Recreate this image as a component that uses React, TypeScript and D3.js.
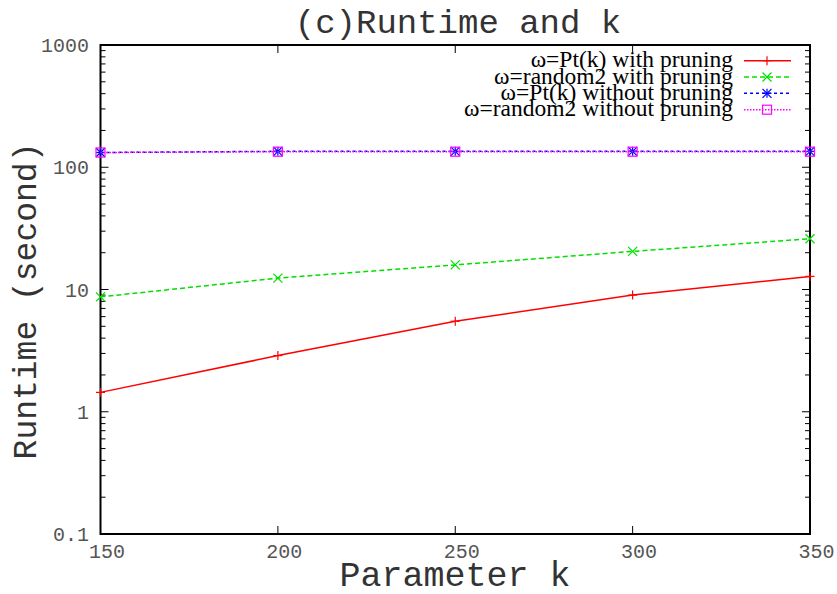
import * as React from 'react';
import { useRef, useEffect } from 'react';
import * as d3 from 'd3';

const kValues = [150, 200, 250, 300, 350];
const ptWithPruning = [1.44, 2.88, 5.5, 9.0, 12.8];
const randomWithPruning = [8.7, 12.4, 15.9, 20.5, 26.0];
const ptWithoutPruning = [132, 135, 135, 135, 135];
const randomWithoutPruning = [132, 134, 134, 134, 134];

const xTicks = [150, 200, 250, 300, 350];
const yTicks = [0.1, 1, 10, 100, 1000];
const yTickLabels = ['0.1', '1', '10', '100', '1000'];

const seriesNames = [
  'ω=Pt(k) with pruning',
  'ω=random2 with pruning',
  'ω=Pt(k) without pruning',
  'ω=random2 without pruning',
];
const seriesColors = ['#ff0000', '#00e000', '#0000ff', '#ff00ff'];
const seriesDash = ['', '5,3', '3,3', '1.5,1.5'];
const seriesMarker = ['plus', 'cross', 'star', 'square'];

const W = 837;
const H = 594;
const margin = { left: 100.5, right: 27, top: 45, bottom: 60 };
const mono = '"Liberation Mono", "DejaVu Sans Mono", monospace';

const App = () => {
  const svgRef = useRef<SVGSVGElement>(null);

  useEffect(() => {
    document.body.style.margin = '0';
    const svg = d3.select(svgRef.current).attr('width', W).attr('height', H);
    svg.selectAll('*').remove();

    const x = d3.scaleLinear().domain([150, 350]).range([margin.left, W - margin.right]);
    const y = d3.scaleLog().domain([0.1, 1000]).range([H - margin.bottom, margin.top]);
    const [x0, x1] = x.range();
    const [y0, y1] = y.range();

    svg.append('rect').attr('width', W).attr('height', H).attr('fill', '#fff');

    // minor & major y ticks, left and right
    const g = svg.append('g');
    for (let d = -1; d < 3; d++) {
      for (let m = 2; m <= 9; m++) {
        const v = m * Math.pow(10, d);
        const yy = y(v);
        g.append('line').attr('x1', x0).attr('x2', x0 + 5).attr('y1', yy).attr('y2', yy)
          .attr('stroke', '#000').attr('stroke-width', 1);
        g.append('line').attr('x1', x1).attr('x2', x1 - 5).attr('y1', yy).attr('y2', yy)
          .attr('stroke', '#000').attr('stroke-width', 1);
      }
    }
    yTicks.forEach((v, i) => {
      const yy = y(v);
      g.append('line').attr('x1', x0).attr('x2', x0 + 8).attr('y1', yy).attr('y2', yy)
        .attr('stroke', '#000').attr('stroke-width', 1);
      g.append('line').attr('x1', x1).attr('x2', x1 - 8).attr('y1', yy).attr('y2', yy)
        .attr('stroke', '#000').attr('stroke-width', 1);
      g.append('text').attr('x', 89).attr('y', yy + 7).attr('text-anchor', 'end')
        .attr('font-family', mono).attr('font-size', 20).attr('fill', '#555')
        .text(yTickLabels[i]);
    });
    xTicks.forEach((v) => {
      const xx = x(v);
      g.append('line').attr('x1', xx).attr('x2', xx).attr('y1', y0).attr('y2', y0 - 8)
        .attr('stroke', '#000').attr('stroke-width', 1);
      g.append('line').attr('x1', xx).attr('x2', xx).attr('y1', y1).attr('y2', y1 + 8)
        .attr('stroke', '#000').attr('stroke-width', 1);
      g.append('text').attr('x', xx + 6.5).attr('y', 558).attr('text-anchor', 'middle')
        .attr('font-family', mono).attr('font-size', 20).attr('fill', '#555')
        .text(String(v));
    });

    // border
    svg.append('rect').attr('x', x0).attr('y', y1).attr('width', x1 - x0).attr('height', y0 - y1)
      .attr('fill', 'none').attr('stroke', '#000').attr('stroke-width', 2);

    const drawMarker = (sel: any, type: string, cx: number, cy: number, color: string) => {
      const s = 4.5;
      const ln = (a: number, b: number, c: number, d: number) =>
        sel.append('line').attr('x1', a).attr('y1', b).attr('x2', c).attr('y2', d)
          .attr('stroke', color).attr('stroke-width', 1.2);
      if (type === 'plus' || type === 'star') {
        ln(cx - s, cy, cx + s, cy);
        ln(cx, cy - s, cx, cy + s);
      }
      if (type === 'cross' || type === 'star') {
        ln(cx - s, cy - s, cx + s, cy + s);
        ln(cx - s, cy + s, cx + s, cy - s);
      }
      if (type === 'square') {
        sel.append('rect').attr('x', cx - s).attr('y', cy - s).attr('width', 2 * s).attr('height', 2 * s)
          .attr('fill', 'none').attr('stroke', color).attr('stroke-width', 1.2);
      }
    };

    const allSeries = [ptWithPruning, randomWithPruning, ptWithoutPruning, randomWithoutPruning];
    const line = d3.line<number>().x((_, i) => x(kValues[i])).y((d) => y(d));

    allSeries.forEach((vals, si) => {
      const sg = svg.append('g');
      sg.append('path').attr('d', line(vals)).attr('fill', 'none')
        .attr('stroke', seriesColors[si]).attr('stroke-width', 1.5)
        .attr('stroke-dasharray', seriesDash[si] || null);
      vals.forEach((v, i) => drawMarker(sg, seriesMarker[si], x(kValues[i]), y(v), seriesColors[si]));
    });

    // legend
    const lg = svg.append('g');
    const rowY = [60.7, 77, 93.3, 109.7];
    seriesNames.forEach((name, si) => {
      const ry = rowY[si];
      lg.append('text').attr('x', 733).attr('y', ry + 6.5).attr('text-anchor', 'end')
        .attr('font-family', '"Liberation Serif", "Times New Roman", serif').attr('font-size', 23.5)
        .attr('fill', '#000').text(name);
      lg.append('line').attr('x1', 744).attr('x2', 791).attr('y1', ry).attr('y2', ry)
        .attr('stroke', seriesColors[si]).attr('stroke-width', 1.5)
        .attr('stroke-dasharray', seriesDash[si] || null);
      drawMarker(lg, seriesMarker[si], 767, ry, seriesColors[si]);
    });

    // titles
    svg.append('text').attr('x', 458).attr('y', 33).attr('text-anchor', 'middle')
      .attr('font-family', mono).attr('font-size', 34).attr('fill', '#333')
      .text('(c)Runtime and k');
    svg.append('text').attr('x', 455).attr('y', 586).attr('text-anchor', 'middle')
      .attr('font-family', mono).attr('font-size', 35).attr('fill', '#333')
      .text('Parameter k');
    svg.append('text').attr('transform', 'translate(36,301) rotate(-90)').attr('text-anchor', 'middle')
      .attr('font-family', mono).attr('font-size', 33).attr('fill', '#333')
      .text('Runtime (second)');
  }, []);

  return <svg ref={svgRef} style={{ display: 'block' }}></svg>;
};

export default App;
